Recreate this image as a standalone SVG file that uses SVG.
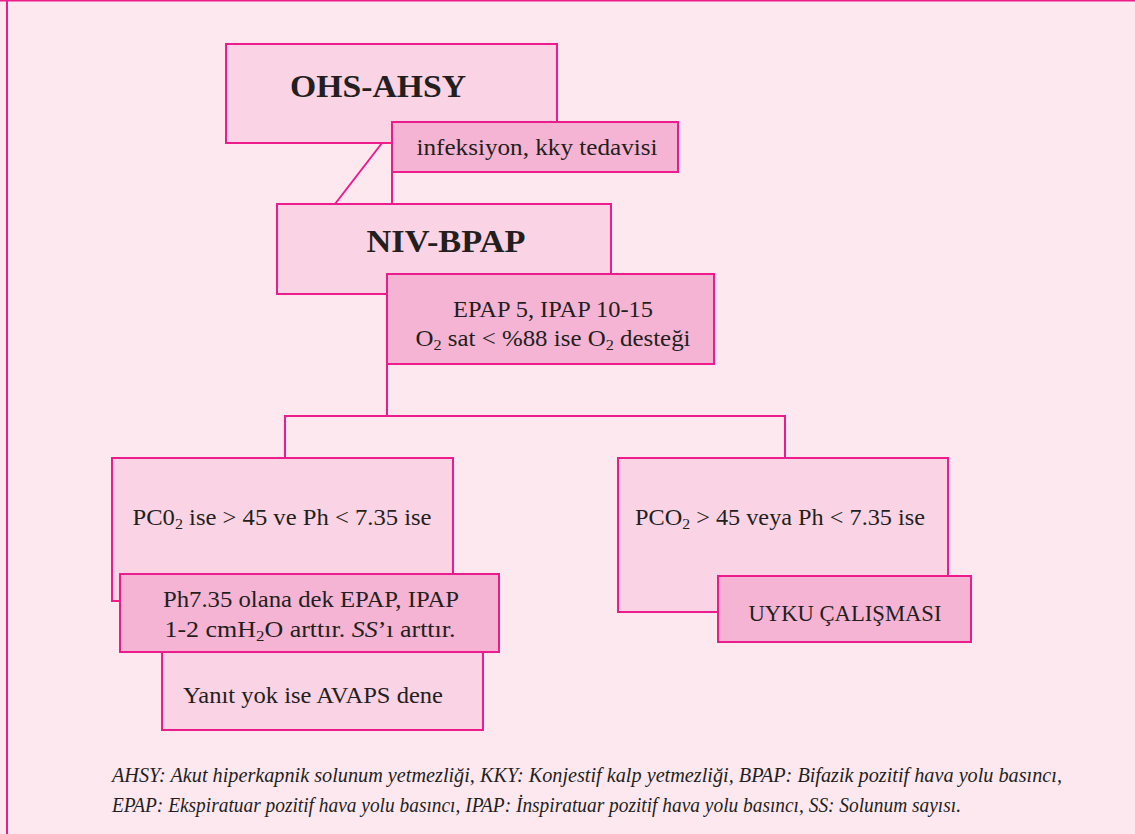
<svg xmlns="http://www.w3.org/2000/svg" width="1135" height="834" viewBox="0 0 1135 834">
<style>
.bg{fill:#fde8f0}
.lt{fill:#fad4e4;stroke:#ec1c8c;stroke-width:2}
.dk{fill:#f5b4d3;stroke:#ec1c8c;stroke-width:2}
.ln{fill:none;stroke:#ec1c8c;stroke-width:2}
text{font-family:"Liberation Serif","DejaVu Serif",serif;fill:#231f20}
.t{font-size:23px;text-anchor:middle}
.h{font-size:32px;font-weight:bold;text-anchor:middle}
.fn{font-size:20px;font-style:italic}
.sub{font-size:15px}
</style>
<rect class="bg" x="0" y="0" width="1135" height="834"/>
<rect x="0" y="0" width="1135" height="1.5" fill="#ec1c8c"/>
<rect x="6" y="0" width="2" height="834" fill="#ec1c8c"/>
<g id="connectors">
<path class="ln" d="M382 143 L335 204"/>
<path class="ln" d="M392 172 V204"/>
<path class="ln" d="M387 364 V416 M285 458 V416 H785 V458"/>
</g>
<g id="n-ohs">
<rect class="lt" x="226" y="44" width="331" height="99"/>
<text class="h" x="378" y="97" textLength="176" lengthAdjust="spacingAndGlyphs">OHS-AHSY</text>
</g>
<g id="n-inf">
<rect class="dk" x="392" y="122" width="286" height="50"/>
<text class="t" x="537" y="155" textLength="241" lengthAdjust="spacingAndGlyphs">infeksiyon, kky tedavisi</text>
</g>
<g id="n-niv">
<rect class="lt" x="277" y="204" width="334" height="90"/>
<text class="h" x="446" y="252" font-size="30" textLength="159" lengthAdjust="spacingAndGlyphs">NIV-BPAP</text>
</g>
<g id="n-epap">
<rect class="dk" x="387" y="274" width="327" height="90"/>
<text class="t" x="553" y="317" textLength="200" lengthAdjust="spacingAndGlyphs">EPAP 5, IPAP 10-15</text>
<text class="t" x="553" y="346" textLength="275" lengthAdjust="spacingAndGlyphs">O<tspan class="sub" baseline-shift="-25%">2</tspan> sat &lt; %88 ise O<tspan class="sub" baseline-shift="-25%">2</tspan> desteği</text>
</g>
<g id="n-left">
<rect class="lt" x="112" y="458" width="341" height="143"/>
<text class="t" x="282" y="525" textLength="299" lengthAdjust="spacingAndGlyphs">PC0<tspan class="sub" baseline-shift="-25%">2</tspan> ise &gt; 45 ve Ph &lt; 7.35 ise</text>
</g>
<g id="n-yanit">
<rect class="lt" x="162" y="652" width="321" height="78"/>
<text class="t" x="313" y="703" textLength="260" lengthAdjust="spacingAndGlyphs">Yanıt yok ise AVAPS dene</text>
</g>
<g id="n-ph">
<rect class="dk" x="120" y="574" width="379" height="78"/>
<text class="t" x="311" y="607" textLength="296" lengthAdjust="spacingAndGlyphs">Ph7.35 olana dek EPAP, IPAP</text>
<text class="t" x="310" y="637" textLength="291" lengthAdjust="spacingAndGlyphs">1-2 cmH<tspan class="sub" baseline-shift="-25%">2</tspan>O arttır. <tspan font-style="italic">SS</tspan>’ı arttır.</text>
</g>
<g id="n-right">
<rect class="lt" x="618" y="458" width="330" height="154"/>
<text class="t" x="780" y="525" textLength="290" lengthAdjust="spacingAndGlyphs">PCO<tspan class="sub" baseline-shift="-25%">2</tspan> &gt; 45 veya Ph &lt; 7.35 ise</text>
</g>
<g id="n-uyku">
<rect class="dk" x="718" y="576" width="253" height="66"/>
<text class="t" x="845" y="621" textLength="193" lengthAdjust="spacingAndGlyphs">UYKU ÇALIŞMASI</text>
</g>
<g id="footnote">
<text class="fn" x="112" y="782" textLength="950" lengthAdjust="spacingAndGlyphs">AHSY: Akut hiperkapnik solunum yetmezliği, KKY: Konjestif kalp yetmezliği, BPAP: Bifazik pozitif hava yolu basıncı,</text>
<text class="fn" x="112" y="812" textLength="849" lengthAdjust="spacingAndGlyphs">EPAP: Ekspiratuar pozitif hava yolu basıncı, IPAP: İnspiratuar pozitif hava yolu basıncı, SS: Solunum sayısı.</text>
</g>
</svg>
